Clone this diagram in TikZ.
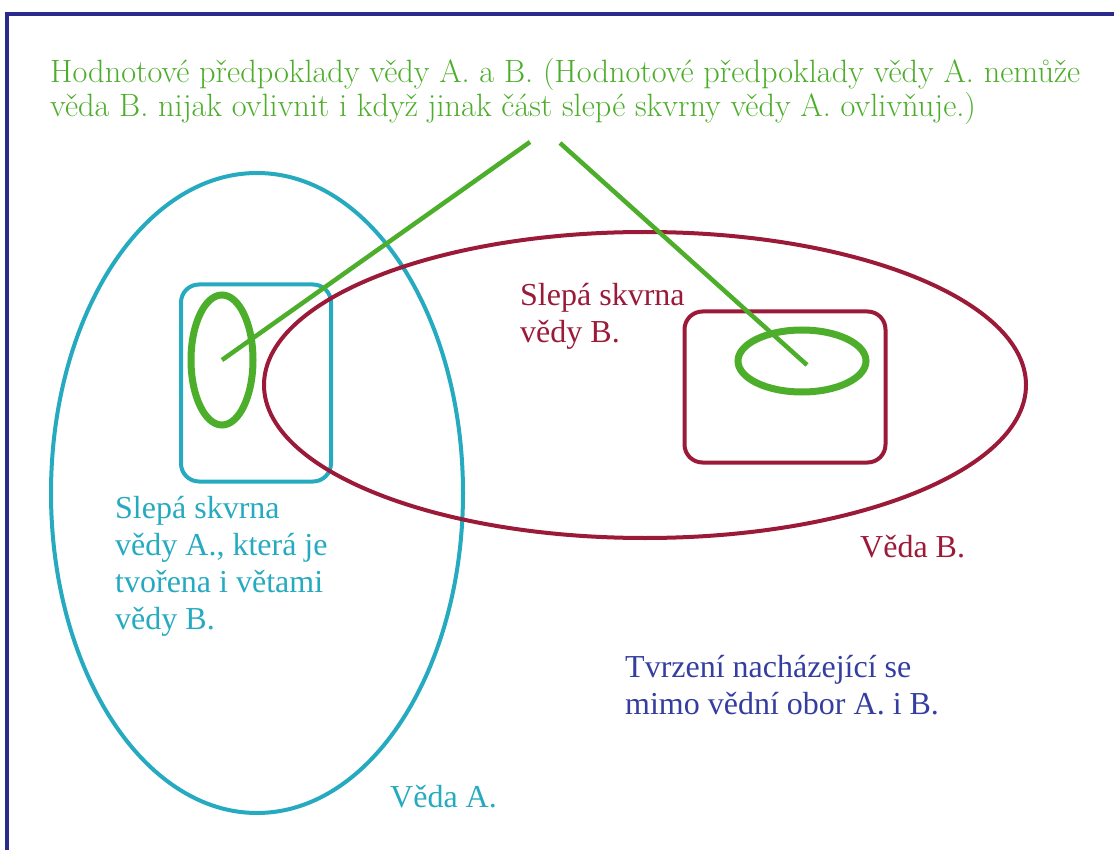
\documentclass[tikz,border=0pt]{standalone}
\usepackage{fontspec}
\newfontfamily\libserif{Liberation Serif}
\usetikzlibrary{shapes.geometric}

\definecolor{frameblue}{RGB}{42,42,140}
\definecolor{textblue}{RGB}{52,62,160}
\definecolor{spotgreen}{RGB}{76,174,42}
\definecolor{scicyan}{RGB}{38,170,192}
\definecolor{scired}{RGB}{155,26,56}

\tikzset{
  region/.style={ellipse, draw, line width=4pt, inner sep=0pt},
  spotbox/.style={rectangle, rounded corners=18pt, draw, line width=4pt, inner sep=0pt},
  valuespot/.style={ellipse, draw=spotgreen, line width=7pt, inner sep=0pt},
  textnote/.style={anchor=north west, align=left, inner sep=0pt,
    font=\libserif\fontsize{32}{37}\selectfont}
}

\begin{document}
\begin{tikzpicture}[x=1pt, y=-1pt]
\useasboundingbox (0,0) rectangle (1114,850);
% Frame
\draw[frameblue, line width=4pt] (1120,14) -- (7,14) -- (7,856);

% Science A and its blind spot
\node[region, draw=scicyan, minimum width=412pt, minimum height=640pt] (scienceA) at (257,493) {};
\node[spotbox, draw=scicyan, minimum width=150pt, minimum height=197pt] (blindA) at (256,383) {};

% Science B and its blind spot
\node[region, draw=scired, minimum width=762pt, minimum height=306pt] (scienceB) at (645,385) {};
\node[spotbox, draw=scired, minimum width=201pt, minimum height=151pt] (blindB) at (785,387) {};

% Value assumptions
\node[valuespot, minimum width=62pt, minimum height=130pt] (valueA) at (222,360) {};
\node[valuespot, minimum width=128pt, minimum height=62pt] (valueB) at (802,361) {};
\coordinate (tipA) at (530,142);
\coordinate (tipB) at (560,143);
\draw[spotgreen, line width=4.5pt] (tipA) -- (valueA.center);
\draw[spotgreen, line width=4.5pt] (tipB) -- ([shift={(5,4)}]valueB.center);

% Labels
\node[textnote, spotgreen, font=\rmfamily\fontsize{32.3}{34}\selectfont] (title) at (50,58)
  {Hodnotové předpoklady vědy A. a B. (Hodnotové předpoklady vědy A. nemůže\\
   věda B. nijak ovlivnit i když jinak část slepé skvrny vědy A. ovlivňuje.)};
\node[textnote, scired] (blindBtext) at (520,283) {Slepá skvrna\\vědy B.};
\node[textnote, scicyan] (blindAtext) at (115,496)
  {Slepá skvrna\\vědy A., která je\\tvořena i větami\\vědy B.};
\node[textnote, scired] (scienceBtext) at (860,535) {Věda B.};
\node[textnote, scicyan] (scienceAtext) at (390,785) {Věda A.};
\node[textnote, textblue] (outside) at (625,655)
  {Tvrzení nacházející se\\mimo vědní obor A. i B.};
\end{tikzpicture}
\end{document}
